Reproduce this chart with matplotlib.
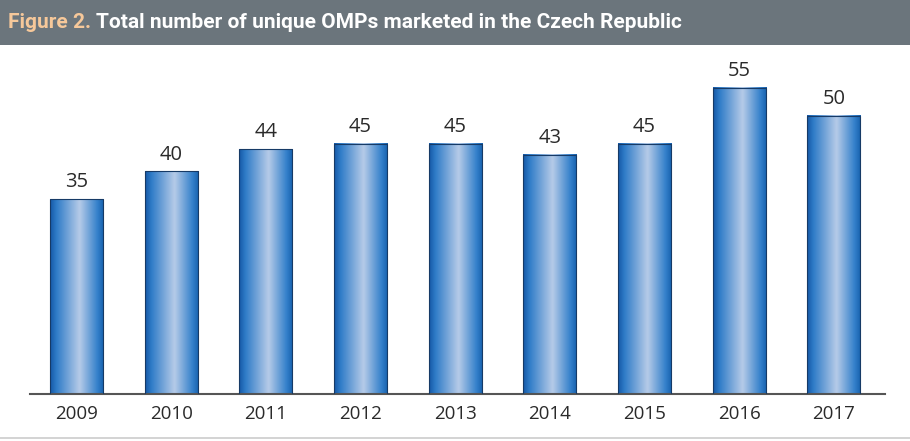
import matplotlib
matplotlib.use("Agg")
import matplotlib.pyplot as plt
from matplotlib.colors import LinearSegmentedColormap
import numpy as np

# data
years = ["2009", "2010", "2011", "2012", "2013", "2014", "2015", "2016", "2017"]
omps = [35, 40, 44, 45, 45, 43, 45, 55, 50]

HEADER_BG = "#6b757c"
TITLE_ACCENT = "#f6c89a"
TEXT = "#2a2a2a"
NUM_FONT = ["Open Sans", "DejaVu Sans"]
TITLE_FONT = ["Roboto", "DejaVu Sans"]

bar_cmap = LinearSegmentedColormap.from_list(
    "barshade", [(0.0, "#1558a6"), (0.12, "#2f7cc8"), (0.55, "#b6cbe8"),
                 (0.88, "#3581cb"), (1.0, "#1660ad")])

fig = plt.figure(figsize=(9.1, 4.41), dpi=100)
W, H = 910, 441

# header band
band = fig.add_axes([0, 1 - 45 / H, 1, 45 / H])
band.set_facecolor(HEADER_BG)
band.set_xticks([])
band.set_yticks([])
for s in band.spines.values():
    s.set_visible(False)
t1 = band.text(8 / W, 0.5, "Figure 2.", transform=band.transAxes, ha="left",
               va="center", fontsize=15, fontweight="bold", color=TITLE_ACCENT,
               family=TITLE_FONT)
fig.canvas.draw()
bb = t1.get_window_extent()
band.text((bb.x1 + 5) / W, 0.5, "Total number of unique OMPs marketed in the Czech Republic",
          transform=band.transAxes, ha="left", va="center", fontsize=15,
          fontweight="bold", color="white", family=TITLE_FONT)

# chart
ax = fig.add_axes([30 / W, 1 - 394 / H, 855 / W, 334 / H])
x = np.arange(len(years))
bars = ax.bar(x, omps, width=0.56, facecolor="none", edgecolor="#163a66",
              linewidth=0.8, zorder=3)
grad = np.linspace(0, 1, 256).reshape(1, -1)
for b in bars:
    x0, w, h = b.get_x(), b.get_width(), b.get_height()
    ax.imshow(grad, cmap=bar_cmap, aspect="auto", extent=[x0, x0 + w, 0, h],
              zorder=2, interpolation="bicubic")
    ax.text(x0 + w / 2, h + 1.2, f"{int(h)}", ha="center", va="bottom",
            fontsize=14.5, color=TEXT, family=NUM_FONT)

ax.set_xlim(-0.49, len(years) - 0.46)
ax.set_ylim(0, 60)
ax.set_xticks(x)
ax.set_xticklabels(years, fontsize=13.5, color=TEXT, family=NUM_FONT)
ax.tick_params(axis="x", length=0, pad=8)
ax.set_yticks([])
for s in ["top", "right", "left"]:
    ax.spines[s].set_visible(False)
ax.spines["bottom"].set_color("#555555")
ax.spines["bottom"].set_linewidth(1.5)

# bottom rule
rule = fig.add_axes([0, 1 - 439 / H, 1, 2 / H])
rule.set_facecolor("#d4d4d4")
rule.set_xticks([])
rule.set_yticks([])
for s in rule.spines.values():
    s.set_visible(False)

fig.savefig("out.png", dpi=100)
